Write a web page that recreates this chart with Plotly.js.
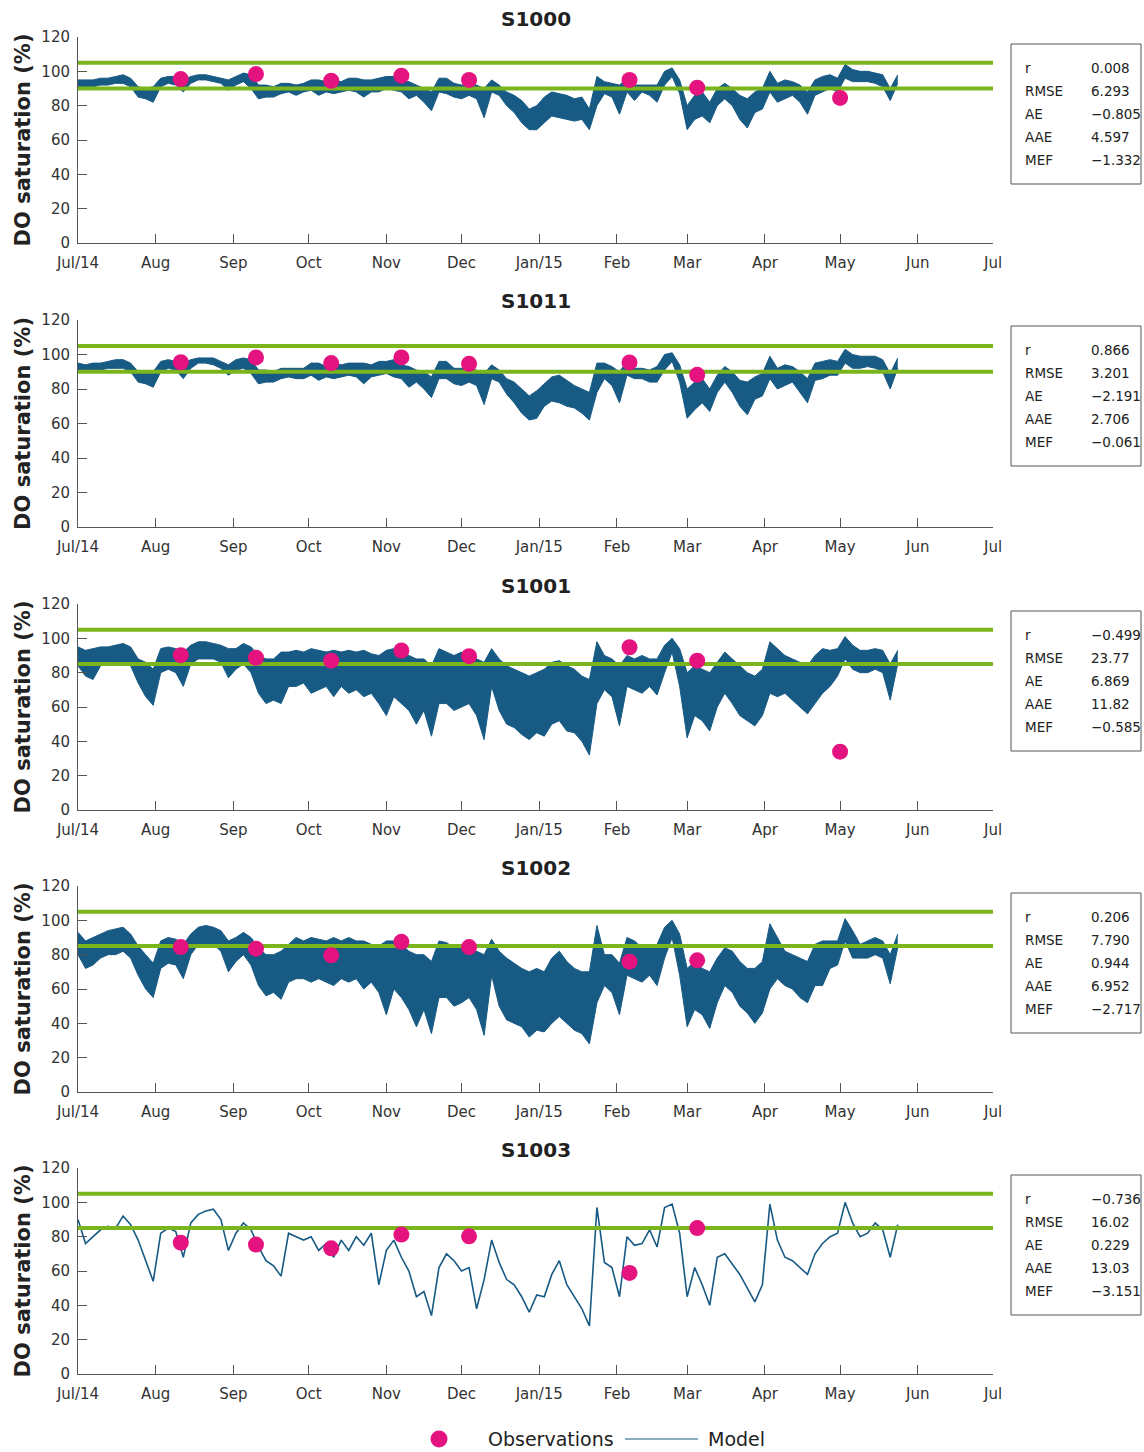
<!DOCTYPE html>
<html><head><meta charset="utf-8">
<script src="https://cdn.plot.ly/plotly-3.0.1.min.js"></script>
<style>html,body{margin:0;padding:0;background:#fff}#chart{width:1144px;height:1452px}</style>
</head><body><div id="chart"></div>
<script>
// ---------------- DATA ----------------
const stations = ['S1000', 'S1011', 'S1001', 'S1002', 'S1003'];
const monthTickDates = ['2014-07-01','2014-08-01','2014-09-01','2014-10-01','2014-11-01','2014-12-01','2015-01-01','2015-02-01','2015-03-01','2015-04-01','2015-05-01','2015-06-01','2015-07-01'];
const monthTickLabels = ['Jul/14','Aug','Sep','Oct','Nov','Dec','Jan/15','Feb','Mar','Apr','May','Jun','Jul'];
const obsDates = ['2014-08-11','2014-09-10','2014-10-10','2014-11-07','2014-12-04','2015-02-06','2015-03-05','2015-05-01'];
const obsS1000 = [95.5, 98.4, 94.5, 97.5, 95.0, 95.0, 90.5, 84.5];
const obsS1011 = [95.5, 98.3, 95.0, 98.3, 94.6, 95.4, 88.2];
const obsS1001 = [90.2, 88.7, 87.0, 92.9, 89.6, 94.8, 87.0, 34.0];
const obsS1002 = [84.4, 83.5, 79.6, 87.5, 84.4, 75.9, 76.7];
const obsS1003 = [76.5, 75.4, 73.2, 81.2, 80.2, 58.9, 85.0];
const upperLimit = [105, 105, 105, 105, 105];
const lowerLimit = [90, 90, 85, 85, 85];
const legendLabels = ['Observations', 'Model'];

// model, sampled every 3 days from 1 Jul 2014
// S1000..S1002: envelope of the dense daily swing (high / low); S1003: single line
const modelStart = '2014-07-01';
const modelStepDays = 3;
const hiS1000 = [95,95,95,96,96,97,98,96,91,90, 91,96,97,97,95,97,98,98,97,96, 95,97,99,98,92,92,91,93,93,92, 93,95,95,94,95,94,96,96,95,95, 96,97,97,95,94,92,90,88,96,96, 93,92,93,92,90,95,92,88,86,83, 78,80,85,88,87,86,84,85,78,97, 94,93,92,96,92,92,92,92,100,102, 95,80,86,88,82,90,93,90,86,84, 88,90,100,93,95,94,92,88,95,97, 98,96,104,101,100,100,99,98,90,98];
const loS1000 = [91,91,91,92,92,93,93,91,85,84, 82,91,93,92,88,93,95,95,94,93, 89,92,94,90,84,85,85,87,88,86, 88,89,86,88,87,88,89,88,85,88, 88,90,89,88,84,86,82,77,88,87, 85,84,86,84,73,88,86,80,76,70, 66,66,70,74,73,72,71,72,66,80, 87,85,75,88,83,88,86,82,92,97, 87,66,72,74,70,80,84,80,72,67, 76,78,88,82,84,86,82,75,86,88, 90,88,96,94,94,94,93,91,83,93];
const hiS1011 = [95,94,95,95,96,97,97,95,90,89, 90,96,97,96,95,97,98,98,98,96, 94,97,98,97,91,91,90,92,92,92, 92,95,95,93,95,94,95,95,95,94, 96,96,97,94,93,91,90,87,96,96, 92,92,92,91,89,94,91,86,84,80, 76,79,83,87,88,85,82,80,78,95, 95,93,90,96,92,92,91,93,100,101, 94,80,84,86,80,88,93,90,85,84, 87,89,99,92,94,93,90,86,95,96, 97,96,103,100,99,99,99,97,89,98];
const loS1011 = [91,90,91,91,92,92,92,90,84,83, 81,90,92,91,86,92,95,95,94,92, 88,91,92,89,83,84,84,86,87,86, 86,88,85,87,86,87,88,87,83,87, 88,89,87,86,81,84,80,75,86,86, 83,82,84,82,71,86,84,77,72,66, 62,63,70,73,72,70,69,66,62,78, 86,82,72,88,86,86,84,84,91,96, 84,63,68,72,67,78,84,78,70,65, 74,76,86,80,82,84,78,72,85,86, 88,88,95,92,92,93,92,90,80,92];
const hiS1001 = [95,93,94,95,95,96,97,95,88,86, 82,94,95,94,92,96,98,98,97,96, 94,94,97,95,90,88,88,92,92,93, 92,94,93,92,93,92,93,92,93,91, 90,93,94,92,90,88,88,84,94,92, 90,92,90,88,86,94,88,84,82,80, 78,80,82,86,87,84,82,78,76,98, 90,88,84,90,88,90,88,88,96,100, 94,80,84,82,80,86,92,88,84,80, 78,82,98,94,90,88,86,84,90,94, 93,94,101,96,93,93,94,93,85,93];
const loS1001 = [84,78,76,84,85,86,86,84,74,66, 61,80,82,80,72,85,88,88,88,86, 77,82,85,80,68,62,64,62,72,72, 74,68,70,72,66,72,68,70,66,68, 62,55,66,62,58,50,58,43,62,62, 58,60,62,55,41,72,58,50,48,44, 41,45,43,50,52,46,45,40,32,62, 70,66,49,72,70,68,72,67,80,92, 72,42,55,52,46,60,68,62,55,52, 49,55,68,66,68,64,60,56,62,68, 72,78,88,82,80,80,82,80,64,85];
const hiS1002 = [93,88,90,92,94,95,96,92,85,80, 75,88,90,89,86,92,96,97,96,94, 88,90,93,90,84,80,80,82,86,90, 88,90,89,88,90,88,90,88,88,86, 85,88,88,86,82,80,80,76,88,87, 84,86,84,82,80,89,82,78,75,72, 70,72,70,78,82,76,72,70,70,97, 80,80,75,90,88,84,84,86,96,100, 92,72,76,72,70,78,84,82,76,72, 72,76,98,90,82,80,78,76,86,88, 88,88,101,94,86,88,90,88,80,92];
const loS1002 = [80,72,74,78,80,80,82,78,68,60, 55,72,75,74,66,80,86,86,86,82, 70,76,80,74,62,56,58,54,64,66, 66,64,66,64,62,66,64,66,60,64, 58,45,60,55,48,38,48,34,55,55, 50,52,55,48,33,68,50,42,40,38, 32,36,35,40,44,40,36,34,28,52, 62,58,45,68,66,64,68,62,78,90, 68,38,48,45,37,52,62,58,50,46, 40,46,60,66,62,60,55,52,62,62, 72,74,88,78,78,78,80,78,63,84];
const valS1003 = [90,76,80,84,86,85,92,87,78,66, 54,82,85,83,68,88,93,95,96,90, 72,82,88,84,74,66,63,57,82,80, 78,80,72,76,68,78,72,80,75,82, 52,72,78,68,60,45,48,34,62,70, 66,60,62,38,55,78,65,55,52,45, 36,46,45,58,66,52,45,38,28,97, 65,62,45,80,75,76,84,74,97,99, 82,45,62,52,40,68,70,64,58,50, 42,52,99,78,68,66,62,58,70,76, 80,82,100,88,80,82,88,84,68,87];

const statNames = ['r', 'RMSE', 'AE', 'AAE', 'MEF'];
const statsS1000 = ['0.008', '6.293', '\u22120.805', '4.597', '\u22121.332'];
const statsS1011 = ['0.866', '3.201', '\u22122.191', '2.706', '\u22120.061'];
const statsS1001 = ['\u22120.499', '23.77', '6.869', '11.82', '\u22120.585'];
const statsS1002 = ['0.206', '7.790', '0.944', '6.952', '\u22122.717'];
const statsS1003 = ['\u22120.736', '16.02', '0.229', '13.03', '\u22123.151'];

// ---------------- BUILD ----------------
const obsAll = [obsS1000, obsS1011, obsS1001, obsS1002, obsS1003];
const hiAll = [hiS1000, hiS1011, hiS1001, hiS1002, null];
const loAll = [loS1000, loS1011, loS1001, loS1002, null];
const valAll = [null, null, null, null, valS1003];
const statsAll = [statsS1000, statsS1011, statsS1001, statsS1002, statsS1003];

const W = 1144, H = 1452;
const px = v => v / W;
const py = v => 1 - v / H;
const plotLeft = 78, plotRight = 993;
const panelTop = [37, 320, 604, 886, 1168];
const panelBottom = [243, 527, 810, 1092, 1374];
const titleY = [19, 301, 586, 868, 1150];
const boxTop = [44, 326, 611, 893, 1175];

const modelColor = '#175a84';
const greenColor = '#7ab51d';
const obsColor = '#e5137f';
const axisColor = '#555555';
const textColor = '#333333';
const font = 'DejaVu Sans, Verdana, sans-serif';
const DAY = 86400000;
const t0 = Date.parse(modelStart + 'T00:00:00Z');

function makeDates(n) {
  const out = [];
  for (let i = 0; i < n; i++) out.push(new Date(t0 + i * modelStepDays * DAY).toISOString().slice(0, 10));
  return out;
}
const xRange = [monthTickDates[0], monthTickDates[monthTickDates.length - 1]];

const traces = [];
const layout = {
  width: W, height: H,
  margin: {l: 0, r: 0, t: 0, b: 0},
  paper_bgcolor: '#ffffff', plot_bgcolor: '#ffffff',
  font: {family: font, color: textColor},
  showlegend: false,
  annotations: [], shapes: []
};

stations.forEach((st, k) => {
  const s = k === 0 ? '' : String(k + 1);
  const xa = 'x' + s, ya = 'y' + s;
  if (valAll[k]) {
    traces.push({x: makeDates(valAll[k].length), y: valAll[k], xaxis: xa, yaxis: ya, mode: 'lines',
      line: {color: modelColor, width: 1.6}, name: 'Model', hoverinfo: 'skip'});
  } else {
    const dates = makeDates(hiAll[k].length);
    traces.push({x: dates, y: loAll[k], xaxis: xa, yaxis: ya, mode: 'lines',
      line: {color: modelColor, width: 1}, name: 'Model', hoverinfo: 'skip'});
    traces.push({x: dates, y: hiAll[k], xaxis: xa, yaxis: ya, mode: 'lines', fill: 'tonexty',
      fillcolor: modelColor, line: {color: modelColor, width: 1}, name: 'Model', hoverinfo: 'skip'});
  }
  traces.push({x: xRange, y: [upperLimit[k], upperLimit[k]], xaxis: xa, yaxis: ya, mode: 'lines',
    line: {color: greenColor, width: 4}, hoverinfo: 'skip'});
  traces.push({x: xRange, y: [lowerLimit[k], lowerLimit[k]], xaxis: xa, yaxis: ya, mode: 'lines',
    line: {color: greenColor, width: 4}, hoverinfo: 'skip'});
  traces.push({x: obsDates.slice(0, obsAll[k].length), y: obsAll[k], xaxis: xa, yaxis: ya, mode: 'markers',
    marker: {color: obsColor, size: 16}, name: 'Observations'});

  layout['xaxis' + s] = {
    type: 'date', domain: [px(plotLeft), px(plotRight)], range: xRange, anchor: ya,
    tickvals: monthTickDates, ticktext: monthTickLabels, ticks: 'inside', ticklen: 9, tickwidth: 1,
    ticklabelstandoff: 6,
    tickcolor: axisColor, showline: true, linecolor: axisColor, linewidth: 1,
    showgrid: false, zeroline: false, tickfont: {size: 15, color: textColor, family: font}, fixedrange: true
  };
  layout['yaxis' + s] = {
    domain: [py(panelBottom[k]), py(panelTop[k])], range: [0, 120], anchor: xa,
    tickvals: [0, 20, 40, 60, 80, 100, 120], ticks: 'inside', ticklen: 9, tickwidth: 1,
    ticklabelstandoff: 4,
    tickcolor: axisColor, showline: true, linecolor: axisColor, linewidth: 1,
    showgrid: false, zeroline: false, tickfont: {size: 15, color: textColor, family: font},
    title: {text: 'DO saturation (%)', font: {size: 21, color: '#222', family: font, weight: 'bold'}, standoff: 5},
    fixedrange: true
  };
  layout.annotations.push({text: '<b>' + st + '</b>', xref: 'paper', yref: 'paper',
    x: px((plotLeft + plotRight) / 2), y: py(titleY[k]), xanchor: 'center', yanchor: 'middle',
    showarrow: false, font: {size: 20, color: '#222', family: font}});
  layout.shapes.push({type: 'rect', xref: 'paper', yref: 'paper',
    x0: px(1011), x1: px(1141), y0: py(boxTop[k]), y1: py(boxTop[k] + 140),
    line: {color: axisColor, width: 1}, fillcolor: 'rgba(0,0,0,0)'});
  statNames.forEach((nm, j) => {
    const yy = py(boxTop[k] + 24 + 23 * j);
    layout.annotations.push({text: nm, xref: 'paper', yref: 'paper', x: px(1023), y: yy,
      xanchor: 'left', yanchor: 'middle', showarrow: false, font: {size: 13.5, color: '#222', family: font}});
    layout.annotations.push({text: statsAll[k][j], xref: 'paper', yref: 'paper', x: px(1089), y: yy,
      xanchor: 'left', yanchor: 'middle', showarrow: false, font: {size: 13.5, color: '#222', family: font}});
  });
});

// legend (drawn in the bottom strip so it does not shift the panels)
const legY = 1439;
layout.shapes.push({type: 'circle', xref: 'paper', yref: 'paper',
  x0: px(430.5), x1: px(447.5), y0: py(legY + 8.5), y1: py(legY - 8.5),
  fillcolor: obsColor, line: {width: 0}});
layout.annotations.push({text: legendLabels[0], xref: 'paper', yref: 'paper', x: px(486), y: py(legY),
  xanchor: 'left', yanchor: 'middle', showarrow: false, font: {size: 19, color: '#222', family: font}});
layout.shapes.push({type: 'line', xref: 'paper', yref: 'paper',
  x0: px(625), x1: px(698), y0: py(legY), y1: py(legY), line: {color: modelColor, width: 1.2}});
layout.annotations.push({text: legendLabels[1], xref: 'paper', yref: 'paper', x: px(706), y: py(legY),
  xanchor: 'left', yanchor: 'middle', showarrow: false, font: {size: 19, color: '#222', family: font}});

Plotly.newPlot('chart', traces, layout, {displayModeBar: false, staticPlot: true});
</script>
</body></html>
